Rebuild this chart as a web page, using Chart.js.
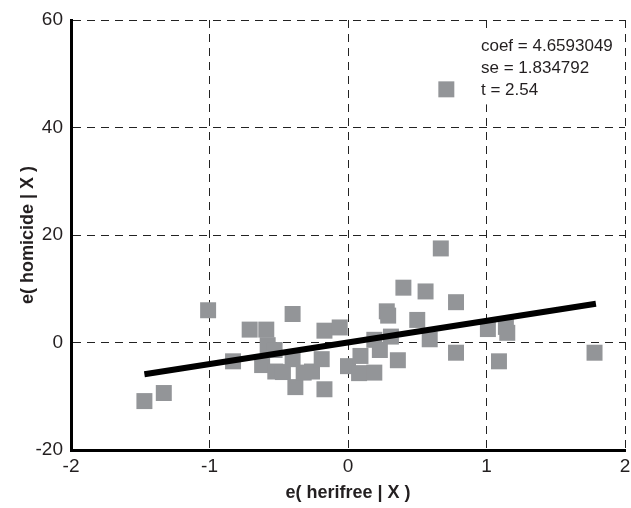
<!DOCTYPE html>
<html>
<head>
<meta charset="utf-8">
<script src="https://cdn.jsdelivr.net/npm/chart.js@4.4.0/dist/chart.umd.min.js"></script>
<style>
  html, body { margin: 0; padding: 0; background: #fff; }
  #wrap { width: 631px; height: 508px; }
</style>
</head>
<body>
<div id="wrap"><canvas id="myChart" width="631" height="508"></canvas></div>
<script>
// residuals e( herifree | X ) and e( homicide | X )
var herifree = [-1.01, -0.40, -1.47, -1.33, -0.83, -0.71, -0.59, -0.58, -0.53, -0.62,
                -0.525, -0.47, -0.40, -0.38, -0.32, -0.26, -0.19, -0.17, -0.06, -0.17,
                0.0, 0.40, 0.56, 0.78, 0.28, 0.29, 0.50, 0.31, 0.59, 0.19,
                0.23, 0.36, 0.78, 0.09, 0.08, 0.19, 0.67, 1.01, 1.14, 1.15,
                1.09, 1.78, 0.71];
var homicide = [6.0, 5.3, -10.9, -9.4, -3.5, 2.4, 2.4, -0.5, -1.4, -4.2,
                -5.4, -5.5, -3.1, -8.3, -5.6, -5.4, -3.1, 2.2, 2.8, -8.7,
                -4.4, 10.2, 9.5, 7.5, 5.8, 5.0, 4.2, 1.1, 0.6, 0.5,
                -1.4, -3.3, -1.9, -2.5, -5.7, -5.6, 17.5, 2.5, 2.9, 1.8,
                -3.5, -1.9, 47.1];

// fitted line end points
var fitX = [-1.47, 1.79];
var fitY = [-5.9, 7.2];

var statLines = ['coef = 4.6593049', 'se = 1.834792', 't = 2.54'];

var xTicks = [-2, -1, 0, 1, 2];
var yTicks = [-20, 0, 20, 40, 60];

var points = herifree.map(function (v, i) { return { x: v, y: homicide[i] }; });
var fitPoints = fitX.map(function (v, i) { return { x: v, y: fitY[i] }; });

var ink = '#231f20';
var fontFam = '"Liberation Sans", Arial, sans-serif';

// text block with a white box behind it, as in the original
var statsPlugin = {
  id: 'stats',
  afterDatasetsDraw: function (chart) {
    var c = chart.ctx;
    var sx = chart.scales.x, sy = chart.scales.y;
    var x0 = sx.getPixelForValue(0.96);
    c.save();
    c.fillStyle = '#fff';
    c.fillRect(x0 - 3, sy.getPixelForValue(57.8), 140, sy.getPixelForValue(44.3) - sy.getPixelForValue(57.8));
    c.fillStyle = ink;
    c.font = '17px ' + fontFam;
    c.textBaseline = 'middle';
    c.textAlign = 'left';
    var ys = [55.05, 51.0, 46.9];
    statLines.forEach(function (t, i) {
      c.fillText(t, x0, sy.getPixelForValue(ys[i]));
    });
    c.restore();
  }
};

var ctx = document.getElementById('myChart').getContext('2d');
var myChart = new Chart(ctx, {
  type: 'scatter',
  data: {
    datasets: [{
      type: 'line',
      data: fitPoints,
      borderColor: '#000',
      borderWidth: 6,
      pointRadius: 0,
      fill: false,
      order: 0
    }, {
      data: points,
      pointStyle: 'rect',
      pointRadius: 11.3,
      pointHoverRadius: 11.3,
      backgroundColor: '#939598',
      borderWidth: 0,
      order: 1
    }]
  },
  options: {
    responsive: false,
    animation: false,
    events: [],
    layout: { autoPadding: false, padding: { top: 20, right: 6, left: 0, bottom: 0 } },
    plugins: { legend: { display: false }, tooltip: { enabled: false } },
    scales: {
      x: {
        type: 'linear',
        min: -2, max: 2,
        afterBuildTicks: function (s) { s.ticks = xTicks.map(function (v) { return { value: v }; }); },
        afterFit: function (s) { s.height = 58; s.paddingRight = 0; s.paddingLeft = 0; },
        grid: { color: '#222', lineWidth: 1, drawTicks: false },
        border: { display: true, color: '#000', width: 3, dash: [8, 6] },
        ticks: { color: ink, padding: 5, maxRotation: 0, font: { family: fontFam, size: 19 } },
        title: { display: true, text: 'e( herifree | X )', color: ink, padding: { top: 0, bottom: 4 },
                 font: { family: fontFam, size: 18, weight: 'bold' } }
      },
      y: {
        type: 'linear',
        min: -20, max: 60,
        afterBuildTicks: function (s) { s.ticks = yTicks.map(function (v) { return { value: v }; }); },
        afterFit: function (s) { s.width = 71; },
        grid: { color: '#222', lineWidth: 1, drawTicks: false },
        border: { display: true, color: '#000', width: 3, dash: [8, 6] },
        ticks: { color: ink, padding: 8, font: { family: fontFam, size: 19 } },
        title: { display: true, text: 'e( homicide | X )', color: ink, padding: { top: 17, bottom: 0 },
                 font: { family: fontFam, size: 18, weight: 'bold' } }
      }
    }
  },
  plugins: [statsPlugin]
});
</script>
</body>
</html>
